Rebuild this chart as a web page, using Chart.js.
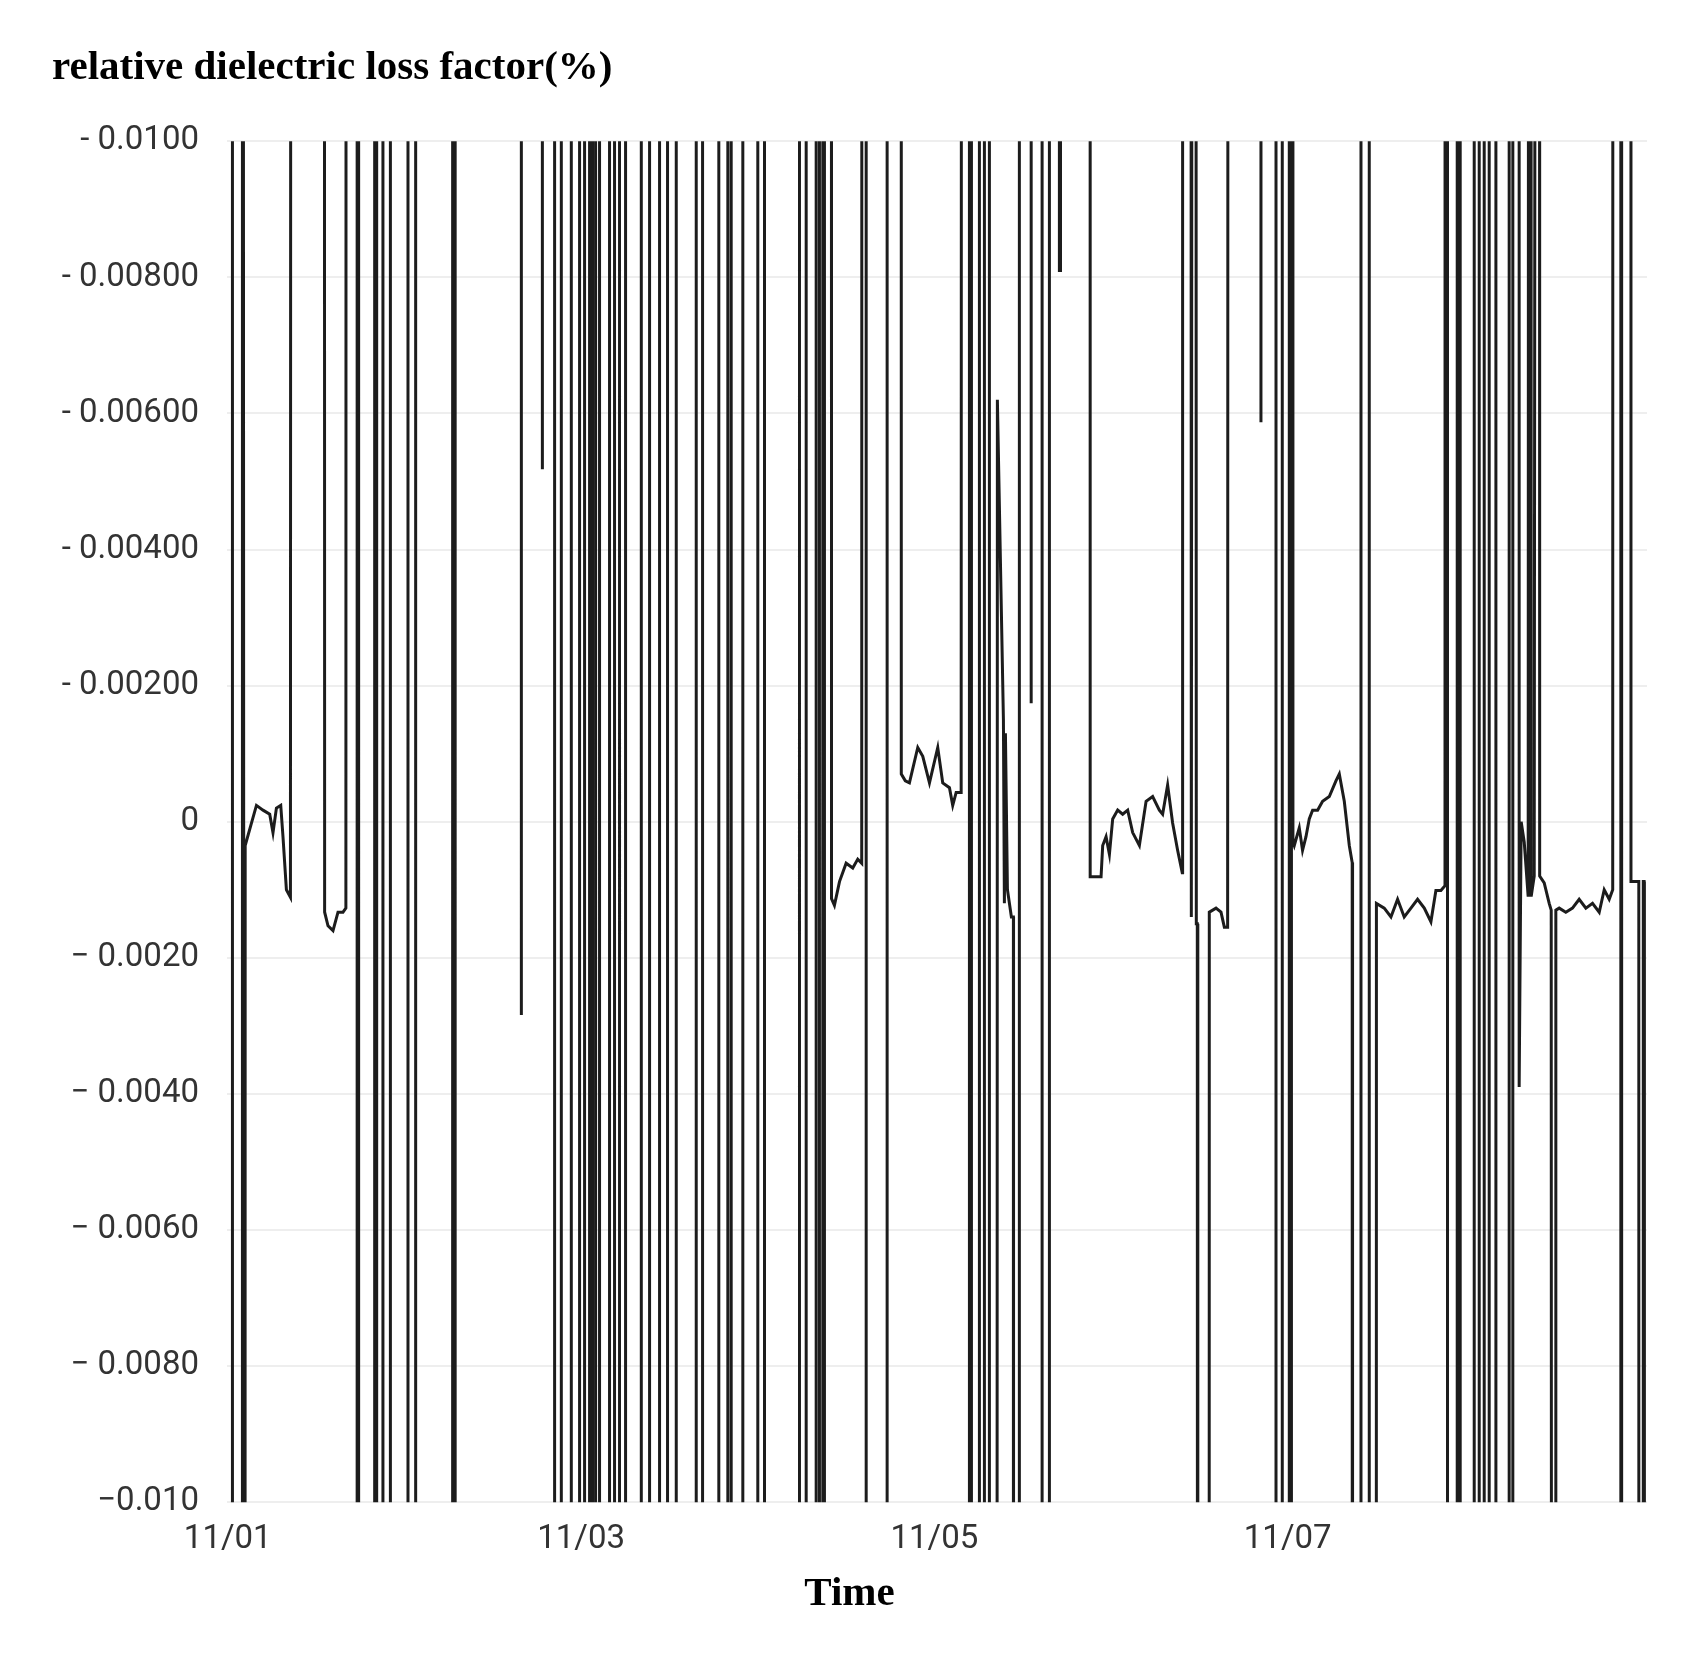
<!DOCTYPE html>
<html>
<head>
<meta charset="utf-8">
<script src="https://cdn.jsdelivr.net/npm/chart.js@4/dist/chart.umd.min.js"></script>
<style>
  body { margin: 0; background: #fff; }
  #wrap { width: 1705px; height: 1653px; }
</style>
</head>
<body>
<div id="wrap"><canvas id="chart" width="1705" height="1653"></canvas></div>
<script>
// H / L = readings far outside the plotted range (clipped at the frame)
const H = 0.05, L = -0.05;

// time in hours after 11/01 00:00
const times = [
  0.23, 0.23, 1.57, 1.57, 1.74, 1.88, 1.94, 2.78, 3.45, 4.33, 5.23, 5.67, 6.13, 6.71, 7.01, 7.47, 8.01, 8.14,
  12.51, 12.6, 13.05, 13.72, 14.39, 15.06, 15.45, 15.52,
  16.96, 16.96, 17.16, 17.16, 19.31, 19.31, 19.58, 19.58, 20.42, 20.42, 21.42, 21.42,
  23.78, 23.78, 24.81, 24.81, 29.77, 29.77, 30.11, 30.11,
  38.98, 38.98, 39.0, 41.8, 41.8, 41.82,
  43.45, 43.45, 44.35, 44.35, 45.69, 45.69, 46.8, 46.8, 47.47, 47.47, 48.14, 48.14,
  48.54, 48.54, 48.95, 48.95, 49.48, 49.48, 50.82, 50.82, 51.49, 51.49, 52.16, 52.16,
  52.97, 52.97, 55.08, 55.08, 56.19, 56.19, 57.53, 57.53, 58.6, 58.6, 59.77, 59.77,
  62.45, 62.45, 63.3, 63.3, 65.48, 65.48, 66.69, 66.69, 67.14, 67.14, 68.7, 68.7,
  70.71, 70.71, 71.61, 71.61, 76.3, 76.3, 77.2, 77.2, 78.54, 78.54, 78.98, 78.98,
  79.43, 79.43, 79.65, 79.65,
  80.55, 80.6, 80.99, 81.67, 82.56, 83.45, 84.12, 84.65, 84.71,
  85.25, 85.25, 88.06, 88.06,
  89.94, 89.96, 90.5, 91.05, 92.17, 92.84, 93.74, 94.85, 95.52, 96.42, 96.86, 97.32, 97.99, 98.12,
  99.1, 99.1, 99.37, 99.37, 100.44, 100.44, 101.11, 101.11, 101.78, 101.78,
  102.72, 102.85, 103.66, 103.79, 103.93, 104.2, 104.73, 105.0, 105.02,
  105.8, 105.8, 107.37, 107.37, 107.4, 108.85, 108.85, 109.83, 109.83,
  111.17, 111.17, 111.3, 111.32,
  115.28, 115.3, 116.09, 116.76, 116.98, 117.43, 117.88, 118.32, 118.99, 119.66, 120.33, 121.0,
  121.9, 122.8, 123.68, 124.58, 125.02, 125.69, 126.36, 127.03, 127.65, 127.7,
  128.74, 128.87, 129.14, 129.41, 129.54, 129.67, 129.74, 131.21, 131.28, 132.18, 132.85, 133.3, 133.74, 133.87,
  138.21, 138.21, 138.25,
  140.23, 140.23, 141.07, 141.07, 142.01, 142.01, 142.3, 142.3,
  142.45, 142.5, 142.68, 143.35, 143.79, 144.25, 144.69, 145.14, 145.81, 146.48, 147.38, 148.27,
  148.72, 149.39, 150.06, 150.45, 150.5,
  151.63, 151.63, 152.74, 152.74,
  153.64, 153.7, 154.75, 155.65, 156.54, 157.43, 158.33, 159.22, 160.12, 161.01, 161.68, 162.35, 162.9, 162.93,
  163.24, 163.24, 164.54, 164.54, 164.94, 164.94, 166.82, 166.82, 167.49, 167.49, 168.16, 168.16,
  168.83, 168.83, 169.73, 169.73, 171.51, 171.51, 172.0, 172.0,
  172.85, 172.85, 173.12, 173.53, 174.06, 174.2, 174.42, 174.46, 174.87, 175.27, 175.54, 175.6,
  176.21, 176.88, 177.15, 177.28, 177.68, 177.77, 178.22, 179.11, 180.0, 180.9, 181.8, 182.69,
  183.59, 184.26, 184.93, 185.4, 185.46,
  186.49, 186.49, 186.6, 186.6,
  187.83, 187.85, 188.9, 188.94, 189.48, 189.5, 189.61, 189.65
];

// relative dielectric loss factor (%)
const values = [
  H, L, L, H, -0.00035, L, -0.00035, -0.00002, 0.00024, 0.00017, 0.00011, -0.00016, 0.0002, 0.00024, -0.00022, -0.001, -0.00111, H,
  H, -0.00133, -0.00153, -0.0016, -0.00133, -0.00133, -0.00127, H,
  H, L, L, H, H, L, L, H, H, L, L, H,
  H, L, L, H, H, L, L, H,
  H, -0.00284, H, H, 0.00518, H,
  H, L, L, H, H, L, L, H, H, L, L, H,
  H, L, L, H, H, L, L, H, H, L, L, H,
  H, L, L, H, H, L, L, H, H, L, L, H,
  H, L, L, H, H, L, L, H, H, L, L, H,
  H, L, L, H, H, L, L, H, H, L, L, H,
  H, L, L, H,
  H, -0.00113, -0.00123, -0.00088, -0.00061, -0.00068, -0.00055, -0.00061, H,
  H, L, L, H,
  H, 0.0007, 0.0006, 0.00057, 0.00109, 0.00096, 0.00057, 0.00109, 0.00057, 0.0005, 0.00024, 0.00043, 0.00043, H,
  H, L, L, H, H, L, L, H, H, L,
  L, 0.0062, 0.0015, -0.0012, 0.0013, -0.001, -0.0014, -0.0014, L,
  L, H, H, 0.00174, H, H, L, L, H,
  H, 0.0081, 0.0081, H,
  H, -0.00081, -0.00081, -0.00081, -0.00035, -0.00022, -0.00048, 0.00004, 0.00017, 0.00011, 0.00017, -0.00016,
  -0.00035, 0.0003, 0.00037, 0.00017, 0.00011, 0.00054, -0.00002, -0.00042, -0.00075, H,
  H, -0.0014, H, H, -0.0015, -0.0015, L, L, -0.00133, -0.00127, -0.00133, -0.00155, -0.00155, H,
  H, 0.00587, H,
  H, L, L, H, H, L, L, H,
  H, -0.00029, -0.00035, -0.00009, -0.00042, -0.00022, 0.00004, 0.00017, 0.00017, 0.0003, 0.00037, 0.0006,
  0.0007, 0.0003, -0.00035, -0.0006, L,
  L, H, H, L,
  L, -0.0012, -0.00127, -0.0014, -0.00114, -0.0014, -0.00127, -0.00114, -0.00127, -0.00147, -0.00101, -0.00101, -0.00094, H,
  H, L, L, H, H, L, L, H, H, L, L, H,
  H, L, L, H, H, L, L, H,
  H, -0.0039, 0.0, -0.0003, -0.0011, H, H, -0.0011, -0.0008, H, H, -0.0008,
  -0.0009, -0.0012, -0.0013, L, L, -0.0013, -0.00127, -0.00133, -0.00127, -0.00114, -0.00127, -0.0012,
  -0.00133, -0.001, -0.00114, -0.001, H,
  H, L, L, H,
  H, -0.00088, -0.00088, L, L, -0.00088, -0.00088, L
];

// axis labels as printed
const yTickValues = [-0.01, -0.008, -0.006, -0.004, -0.002, 0, 0.002, 0.004, 0.006, 0.008, 0.01];
const yTickLabels = ["\u22120.010", "\u2212 0.0080", "\u2212 0.0060", "\u2212 0.0040", "\u2212 0.0020", "0",
  "- 0.00200", "- 0.00400", "- 0.00600", "- 0.00800", "- 0.0100"];
const xTickHours = [-0.4, 47.0, 94.4, 141.8];
const xTickLabels = ["11/01", "11/03", "11/05", "11/07"];

const points = times.map((t, i) => ({ x: t, y: values[i] }));

const serifBold = { family: "Liberation Serif", size: 41, weight: "bold" };

new Chart(document.getElementById("chart"), {
  type: "line",
  data: {
    datasets: [{
      data: points,
      borderColor: "#1c1c1c",
      borderWidth: 3,
      pointRadius: 0,
      tension: 0,
      fill: false,
    }],
  },
  options: {
    responsive: false,
    animation: false,
    devicePixelRatio: 1,
    layout: { padding: { left: 52, right: 58, top: 0, bottom: 34 } },
    plugins: {
      legend: { display: false },
      tooltip: { enabled: false },
      title: {
        display: true,
        text: "relative dielectric loss factor(%)",
        align: "start",
        color: "#000",
        font: serifBold,
        padding: { top: 44, bottom: 48 },
      },
      subtitle: {
        display: true,
        position: "bottom",
        text: "Time",
        color: "#000",
        font: serifBold,
        padding: { top: 0, bottom: 0 },
      },
    },
    scales: {
      x: {
        type: "linear",
        min: -0.5,
        max: 190,
        afterBuildTicks: (s) => { s.ticks = xTickHours.map((v) => ({ value: v })); },
        ticks: {
          autoSkip: false,
          maxRotation: 0,
          color: "#333",
          font: { family: "Roboto", size: 33 },
          padding: 10,
          callback: (v, i) => xTickLabels[i],
        },
        grid: { display: false },
        border: { display: false },
      },
      y: {
        min: -0.01,
        max: 0.01,
        afterBuildTicks: (s) => { s.ticks = yTickValues.map((v) => ({ value: v })); },
        afterFit: (s) => { s.width = 175; },
        ticks: {
          color: "#333",
          font: { family: "Roboto", size: 33 },
          padding: 28,
          callback: (v, i) => yTickLabels[i],
        },
        grid: { color: "#eeeeee", lineWidth: 2, drawTicks: false },
        border: { display: false },
      },
    },
  },
});
</script>
</body>
</html>
